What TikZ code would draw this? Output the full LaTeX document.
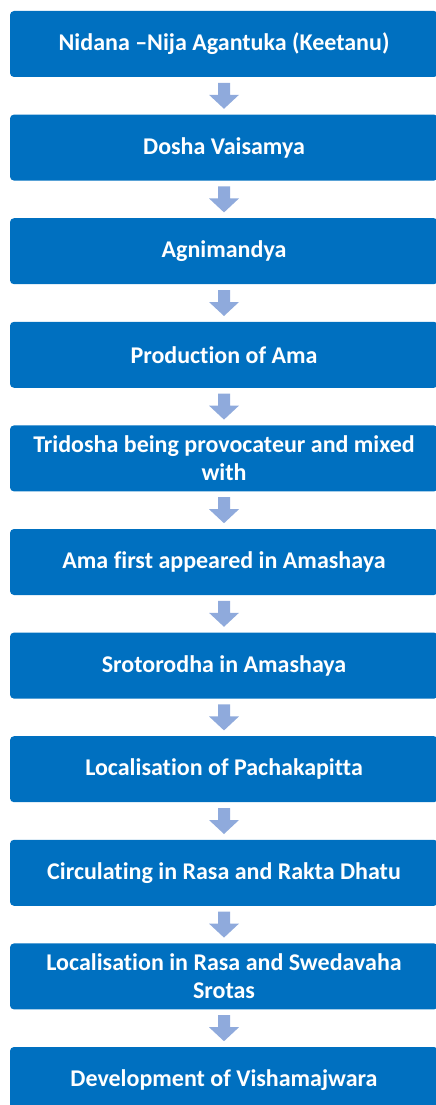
\documentclass[tikz,border=0pt]{standalone}
\usepackage{fontspec}
\setmainfont{Carlito}[Ligatures=NoCommon]
\usetikzlibrary{positioning,calc}
\definecolor{boxblue}{RGB}{0,112,192}
\definecolor{arrowblue}{RGB}{143,170,220}

\begin{document}
\begin{tikzpicture}[x=1pt,y=-1pt]
	\tikzstyle{stage}=[rectangle,rounded corners=4pt,fill=boxblue,text=white,minimum width=428pt,minimum height=66pt,inner sep=2pt,align=center,font=\fontsize{24}{28.5}\selectfont\bfseries]
	\tikzstyle{downarrow}=[fill=arrowblue]
	\clip (0,0) rectangle (436,1105);
	\foreach \n/\txt in {1/Nidana –Nija Agantuka (Keetanu), 2/Dosha Vaisamya, 3/Agnimandya, 4/Production of Ama, 5/Tridosha being provocateur and mixed\\with, 6/Ama first appeared in Amashaya, 7/Srotorodha in Amashaya, 8/Localisation of Pachakapitta, 9/Circulating in Rasa and Rakta Dhatu, 10/Localisation in Rasa and Swedavaha\\Srotas, 11/Development of Vishamajwara}
		\node[stage] (s\n) at (224,{44+103.6*(\n-1)}) {\txt};
	\foreach \n in {1,...,10} {
		\pgfmathtruncatemacro{\m}{\n+1}
		\path (s\n.south) -- (s\m.north) coordinate[midway] (g\n);
		\fill[downarrow] ($(g\n)+(-6,-13)$) -- ++(12,0) -- ++(0,12) -- ++(9,0) -- ++(-15,14) -- ++(-15,-14) -- ++(9,0) -- cycle;
	}
\end{tikzpicture}
\end{document}
